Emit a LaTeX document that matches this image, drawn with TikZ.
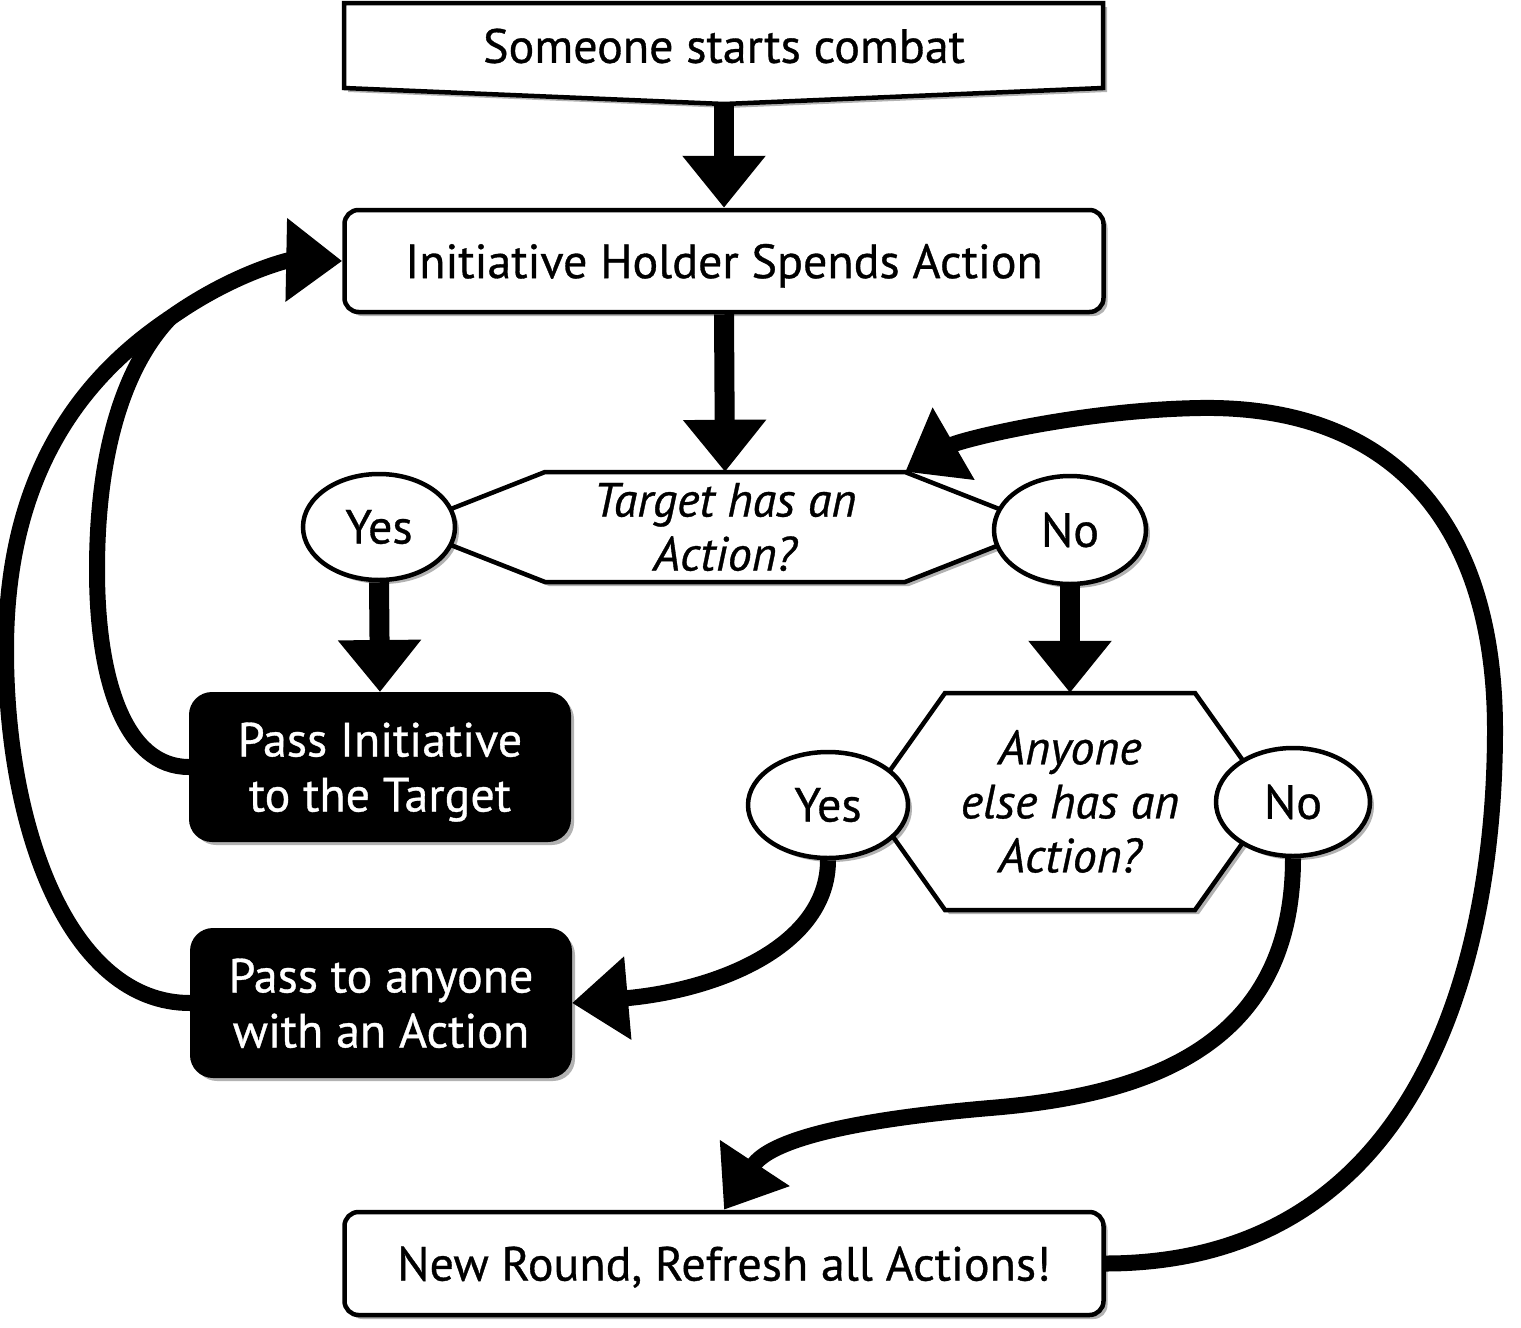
\documentclass[tikz,border=0pt]{standalone}
\usepackage{fontspec}
\setmainfont{PT Sans}[FakeBold=0.7]
\usetikzlibrary{arrows.meta,shapes.geometric,shadows}
\begin{document}
\begin{tikzpicture}[x=1pt,y=-1pt,
  shad/.style={drop shadow={shadow xshift=4pt,shadow yshift=-4pt,opacity=0.3,fill=black}},
  big/.style={font=\fontsize{48}{55}\selectfont},
  wbox/.style={draw=black,line width=4.5pt,fill=white,rounded corners=14pt,minimum width=759pt,minimum height=102pt,inner sep=0pt,text depth=0pt,shad,big},
  bbox/.style={draw=black,fill=black,line width=2pt,rounded corners=22pt,text=white,minimum width=380pt,minimum height=148pt,inner sep=0pt,align=center,text depth=0pt,shad,big},
  oval/.style={ellipse,draw=black,line width=4.5pt,fill=white,inner sep=0pt,shad,big},
  qtxt/.style={inner sep=0pt,align=center,font=\fontsize{48}{54}\selectfont\itshape},
  hexo/.style={draw=black,line width=4.5pt,fill=white,line join=miter,shad},
  sarrow/.style={line width=20pt,-{Triangle[width=80pt,length=52pt]}},
  carrow/.style={line width=16pt,-{Triangle[width=80pt,length=56pt]}},
  cline/.style={line width=16pt},
]
\useasboundingbox (0,0) rectangle (1521,1328);

% top off-page shape
\draw[hexo] (344,3) -- (1103,3) -- (1103,88) -- (724,104) -- (344,88) -- cycle;
\node[inner sep=0pt,big] (s) at (724,46) {Someone starts combat};
\coordinate (sp) at (724,104);

\node[wbox] (ih) at (724,261) {Initiative Holder Spends Action};

% first question
\draw[hexo] (545,472) -- (905,472) -- (1045,527) -- (905,582) -- (545,582) -- (405,527) -- cycle;
\node[qtxt,minimum width=360pt,minimum height=110pt] (q1) at (725,527) {Target has an\\Action?};
\node[oval,minimum width=152pt,minimum height=106pt] (y1) at (379,527) {Yes};
\node[oval,minimum width=152pt,minimum height=108pt] (n1) at (1070,530) {No};

\node[bbox] (pi) at (380,767) {Pass Initiative\\to the Target};

% second question
\draw[hexo] (945,693) -- (1195,693) -- (1272,801.5) -- (1195,910) -- (945,910) -- (868,801.5) -- cycle;
\node[qtxt,minimum width=250pt,minimum height=217pt] (q2) at (1070,801.5) {Anyone\\else has an\\Action?};
\node[oval,minimum width=160pt,minimum height=106pt] (y2) at (828,805) {Yes};
\node[oval,minimum width=154pt,minimum height=108pt] (n2) at (1293,802) {No};

\node[bbox] (pa) at (381,1003) {Pass to anyone\\with an Action};

\node[wbox,minimum height=103pt] (nr) at (724,1263.5) {New Round, Refresh all Actions!};

% connectors
\draw[sarrow] (sp) -- (ih.north);
\draw[sarrow] (ih.south) -- (q1.north);
\draw[sarrow] (y1.south) -- (pi.north);
\draw[sarrow] (n1.south) -- (q2.north);

\coordinate (m) at (170,318);
\draw[cline] (pi.west) .. controls (125,767) and (97,680) .. (97,570) .. controls (97,450) and (125,365) .. (m);
\draw[carrow] (pa.west) .. controls (70,1003) and (6,830) .. (6,650) .. controls (6,470) and (85,375) .. (m) .. controls (235,272) and (290,260) .. (ih.west);

\draw[carrow] (y2.south) .. controls (828,945) and (720,990) .. (pa.east);
\draw[carrow] (n2.south) .. controls (1293,1045) and (1150,1095) .. (990,1108) .. controls (850,1120) and (770,1140) .. (nr.north);
\draw[carrow] (nr.east) .. controls (1420,1263) and (1495,960) .. (1495,730) .. controls (1495,520) and (1390,405) .. (1200,408) .. controls (1080,410) and (960,440) .. (q1.north east);
\end{tikzpicture}
\end{document}
